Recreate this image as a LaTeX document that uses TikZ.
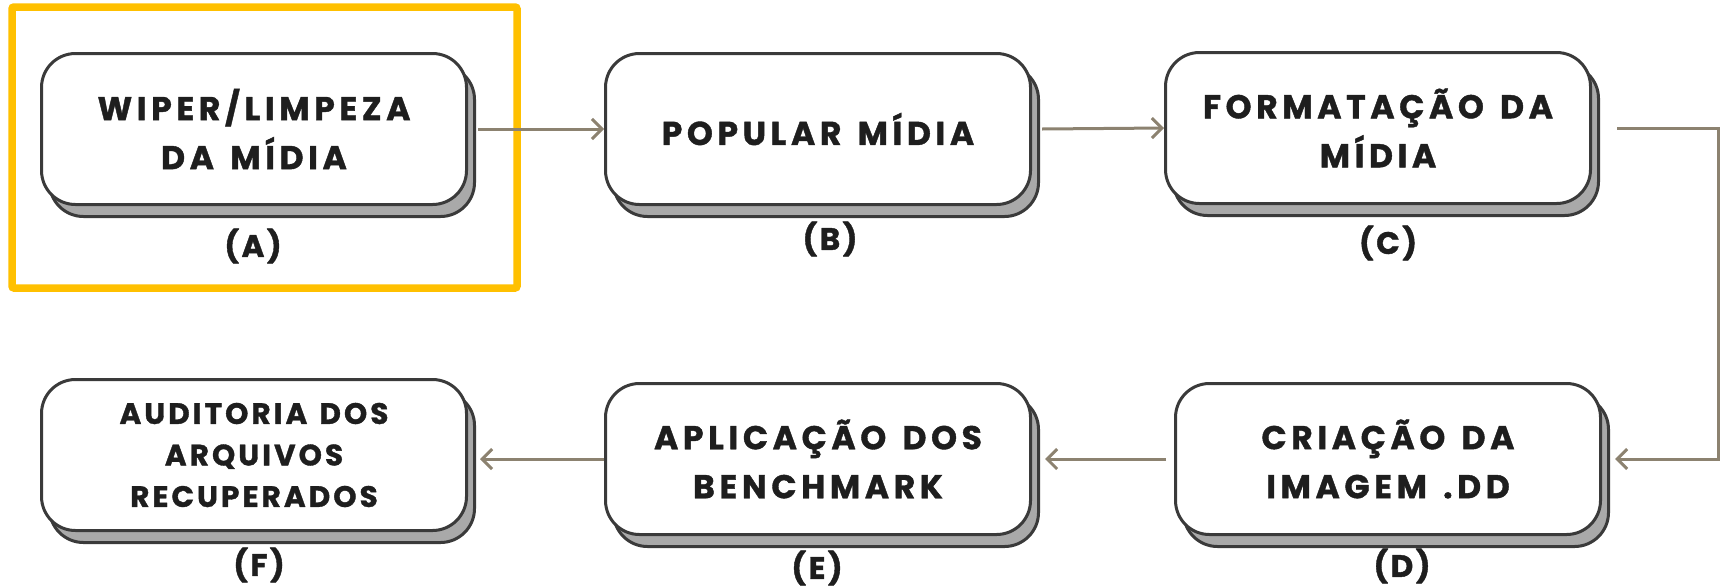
\documentclass[tikz,border=0pt]{standalone}
\usepackage{fontspec}
\usetikzlibrary{arrows.meta,shadows}
\newfontfamily\boxfont{Poppins}[LetterSpace=14, WordSpace=1.4, BoldFeatures={FakeBold=1.2}]
\newfontfamily\boxfontF{Poppins}[LetterSpace=10.5, WordSpace=1.3, BoldFeatures={FakeBold=1.2}]
\newfontfamily\tagfont{Poppins}[LetterSpace=8, BoldFeatures={FakeBold=1.2}]
\definecolor{boxline}{HTML}{3A3A3A}
\definecolor{shadowgray}{HTML}{A9A9A9}
\definecolor{arrowc}{HTML}{8C8270}
\definecolor{txt}{HTML}{1E1E1E}
\definecolor{hilite}{HTML}{FFC000}
\tikzset{
  stepbox/.style={draw=boxline, line width=3pt, fill=white, rounded corners=34pt,
    minimum width=425pt, minimum height=151pt, align=center, text=txt, inner sep=0pt,
    font=\boxfont\bfseries\fontsize{33}{49}\selectfont,
    general shadow={shadow xshift=8pt, shadow yshift=-12pt, fill=shadowgray, draw=boxline, line width=3pt}},
  tag/.style={text=txt, font=\tagfont\bfseries\fontsize{31}{34}\selectfont, inner sep=0pt},
  arr/.style={draw=arrowc, line width=3pt, -{Straight Barb[length=10pt,width=20pt,line width=3pt]}}
}
\begin{document}
\begin{tikzpicture}[x=1pt,y=-1pt]
\useasboundingbox (0,0) rectangle (1723,587);
\draw[hilite, line width=7.5pt, rounded corners=2pt] (12,7) rectangle (517,288);
\node[stepbox] (A) at (254,129) {WIPER/LIMPEZA\\DA MÍDIA};
\node[stepbox] (B) at (818,129) {POPULAR MÍDIA};
\node[stepbox] (C) at (1378,128) {FORMATAÇÃO DA\\MÍDIA};
\node[stepbox] (D) at (1388,459) {CRIAÇÃO DA\\IMAGEM .DD};
\node[stepbox] (E) at (818,459) {APLICAÇÃO DOS\\BENCHMARK};
\node[stepbox, font=\boxfontF\bfseries\fontsize{29.5}{41.5}\selectfont] (F) at (254,455) {AUDITORIA DOS\\ARQUIVOS\\RECUPERADOS};
\node[tag] (la) at (253,246) {(A)};
\node[tag] (lb) at (830,239) {(B)};
\node[tag] (lc) at (1388,243) {(C)};
\node[tag] (ld) at (1402,566) {(D)};
\node[tag] (le) at (817,568) {(E)};
\node[tag] (lf) at (259,565) {(F)};
\draw[arr] ([xshift=10pt]A.east) -- (B.west);
\draw[arr] ([xshift=10pt]B.east) -- (C.west);
\coordinate (turn) at (1718,300);
\draw[arr] ([xshift=25pt]C.east) -| (turn) |- ([xshift=13pt]D.east);
\draw[arr] ([xshift=-8pt]D.west) -- ([xshift=13pt]E.east);
\draw[arr] (E.west) -- ([xshift=12pt]F.east |- E.west);
\end{tikzpicture}
\end{document}
